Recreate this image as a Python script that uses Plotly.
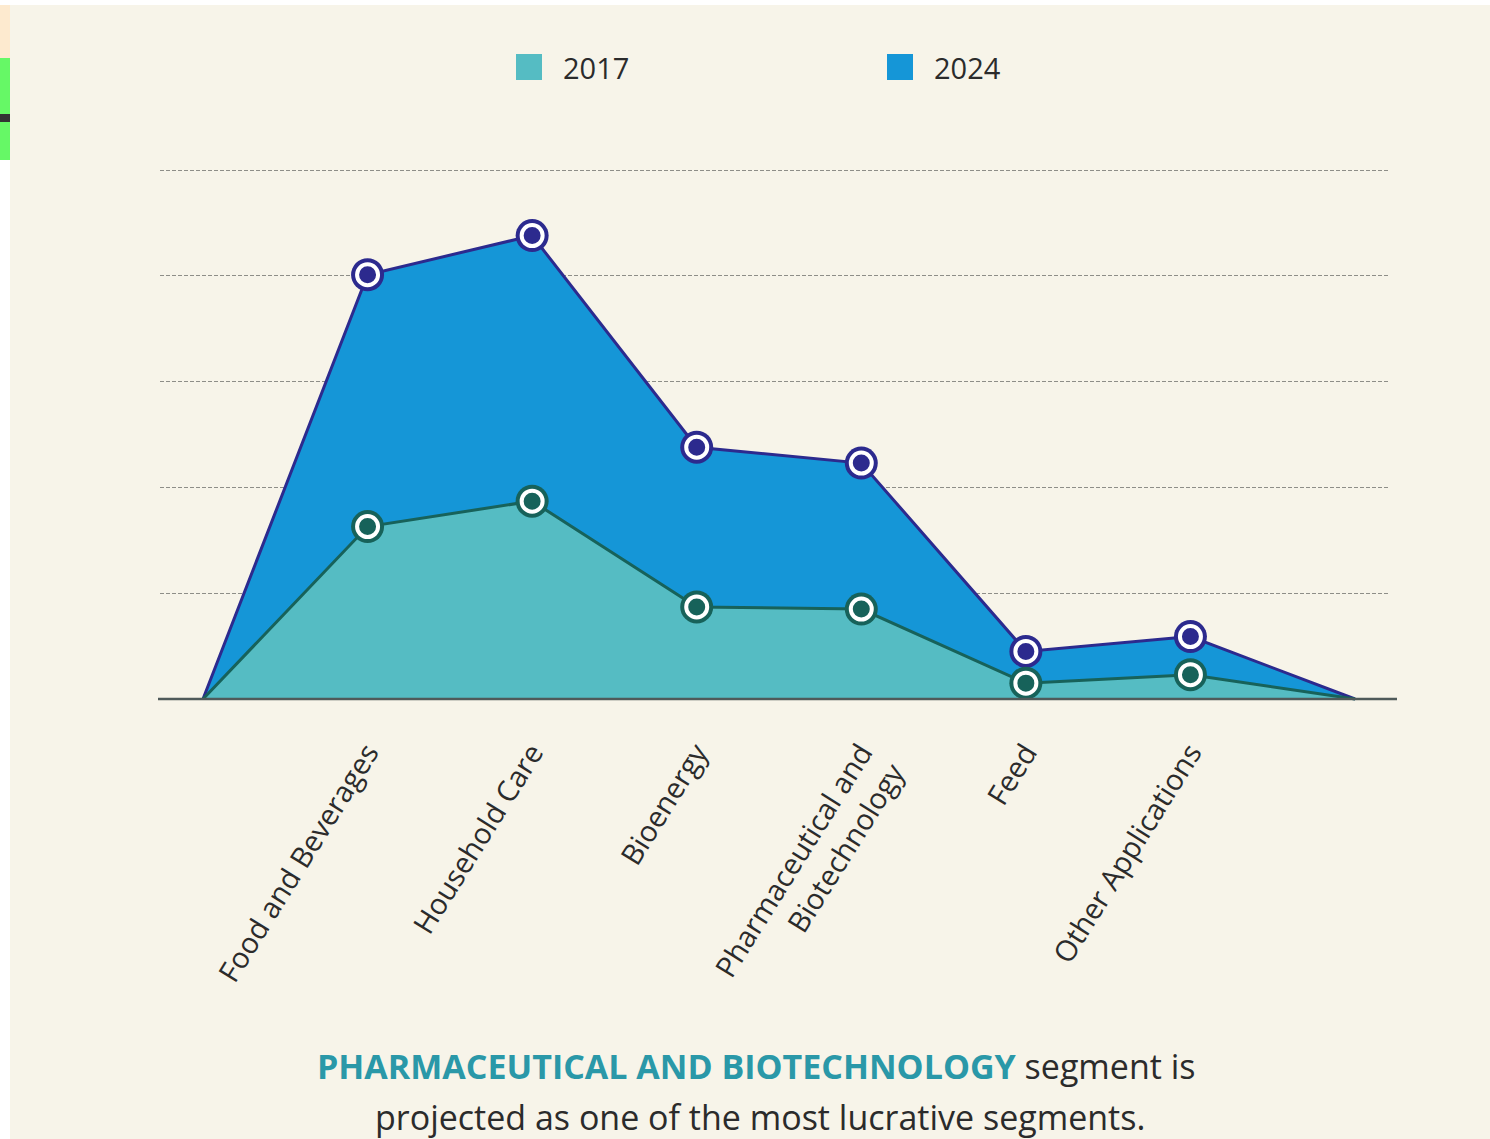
import plotly.graph_objects as go

# Segment labels (first and last points are the unlabeled zero anchors)
segments = ["", "Food and Beverages", "Household Care", "Bioenergy",
            "Pharmaceutical and<br>Biotechnology", "Feed", "Other Applications", ""]
values_2017 = [0, 1.63, 1.87, 0.87, 0.85, 0.15, 0.23, 0]
values_2024 = [0, 4.01, 4.38, 2.38, 2.23, 0.45, 0.59, 0]
grid_levels = [1, 2, 3, 4, 5]

W, H = 1490, 1139
BG = "#f7f4e9"
FILL_2017 = "#55bcc3"
FILL_2024 = "#1596d7"
LINE_2017 = "#17625a"
LINE_2024 = "#2c2a8e"
FONT = "Open Sans"

xs = list(range(len(segments)))
labeled = [i for i, s in enumerate(segments) if s]


def px_x(p):
    return p / W


def px_y(p):
    return 1 - p / H


fig = go.Figure()

# 2024 area drawn first, 2017 area layered on top
for vals, fill, line in [(values_2024, FILL_2024, LINE_2024),
                         (values_2017, FILL_2017, LINE_2017)]:
    fig.add_trace(go.Scatter(
        x=xs, y=vals, mode="lines", fill="tozeroy", fillcolor=fill,
        line=dict(color=line, width=3), hoverinfo="skip", showlegend=False,
        cliponaxis=False))

# Ringed markers: dark outer disc, then white ring with dark centre
for vals, line in [(values_2024, LINE_2024), (values_2017, LINE_2017)]:
    mx = [xs[i] for i in labeled]
    my = [vals[i] for i in labeled]
    fig.add_trace(go.Scatter(
        x=mx, y=my, mode="markers", cliponaxis=False, showlegend=False,
        marker=dict(size=33, color=line), hoverinfo="skip"))
    fig.add_trace(go.Scatter(
        x=mx, y=my, mode="markers", cliponaxis=False, showlegend=False,
        marker=dict(size=21, color=line, line=dict(color="white", width=4)),
        hoverinfo="skip"))

shapes = [
    # baseline
    dict(type="line", xref="paper", yref="y", x0=px_x(158), x1=px_x(1397),
         y0=0, y1=0, line=dict(color="#4f5a5a", width=2.5), layer="above"),
    # page edges
    dict(type="rect", xref="paper", yref="paper", x0=0, x1=px_x(10), y0=0, y1=1,
         fillcolor="white", line=dict(width=0), layer="below"),
    dict(type="rect", xref="paper", yref="paper", x0=0, x1=1, y0=px_y(5), y1=1,
         fillcolor="white", line=dict(width=0), layer="below"),
    dict(type="rect", xref="paper", yref="paper", x0=0, x1=px_x(10),
         y0=px_y(58), y1=px_y(5), fillcolor="#fdeacf", line=dict(width=0), layer="below"),
    dict(type="rect", xref="paper", yref="paper", x0=0, x1=px_x(10),
         y0=px_y(160), y1=px_y(58), fillcolor="#66f866", line=dict(width=0), layer="below"),
    dict(type="rect", xref="paper", yref="paper", x0=0, x1=px_x(10),
         y0=px_y(122), y1=px_y(114), fillcolor="#333333", line=dict(width=0), layer="below"),
    # legend swatches
    dict(type="rect", xref="paper", yref="paper", x0=px_x(516), x1=px_x(542),
         y0=px_y(80), y1=px_y(54), fillcolor=FILL_2017, line=dict(width=0)),
    dict(type="rect", xref="paper", yref="paper", x0=px_x(887), x1=px_x(913),
         y0=px_y(80), y1=px_y(54), fillcolor=FILL_2024, line=dict(width=0)),
]

annotations = [
    dict(text="2017", xref="paper", yref="paper", x=px_x(561), y=px_y(67),
         xanchor="left", yanchor="middle", showarrow=False,
         font=dict(family=FONT, size=29, color="#2b2b2b")),
    dict(text="2024", xref="paper", yref="paper", x=px_x(932), y=px_y(67),
         xanchor="left", yanchor="middle", showarrow=False,
         font=dict(family=FONT, size=29, color="#2b2b2b")),
    dict(text="<b><span style='color:#2a98a8'>PHARMACEUTICAL AND BIOTECHNOLOGY</span></b>"
              " segment is",
         xref="paper", yref="paper", x=px_x(756), y=px_y(1066),
         xanchor="center", yanchor="middle", showarrow=False,
         font=dict(family=FONT, size=34, color="#2b2b2b")),
    dict(text="projected as one of the most lucrative segments.",
         xref="paper", yref="paper", x=px_x(760), y=px_y(1117),
         xanchor="center", yanchor="middle", showarrow=False,
         font=dict(family=FONT, size=34, color="#2b2b2b")),
]

# Pixel layout of the plotting area
unit_x = (1355 - 203) / (len(xs) - 1)
x_range = [-(203 - 160) / unit_x, (len(xs) - 1) + (1390 - 1355) / unit_x]
unit_y = (699 - 170) / 5
y_pad = 0.2
y_range = [-y_pad, 5 + y_pad]
y_dom = [px_y(699 + y_pad * unit_y), px_y(170 - y_pad * unit_y)]

fig.update_layout(
    width=W, height=H,
    margin=dict(l=0, r=0, t=0, b=0),
    paper_bgcolor=BG, plot_bgcolor="rgba(0,0,0,0)",
    showlegend=False,
    shapes=shapes, annotations=annotations,
    xaxis=dict(domain=[px_x(160), px_x(1390)], range=x_range,
               tickmode="array", tickvals=labeled,
               ticktext=[segments[i] for i in labeled],
               tickangle=-58, ticks="outside", ticklen=3,
               tickcolor="rgba(0,0,0,0)", showgrid=False, zeroline=False,
               showline=False,
               tickfont=dict(family=FONT, size=29, color="#2b2b2b")),
    yaxis=dict(domain=y_dom, range=y_range, tickmode="array",
               tickvals=grid_levels, showticklabels=False, showgrid=True,
               gridcolor="#8e8e88", griddash="4px,2px", gridwidth=1,
               zeroline=False, showline=False),
)

fig.write_html("out.html")
